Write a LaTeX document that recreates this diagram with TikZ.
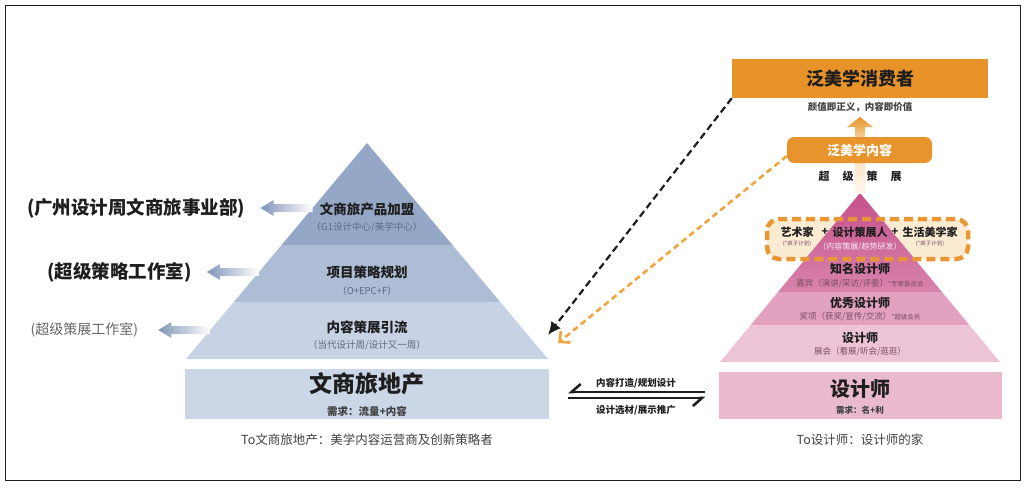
\documentclass[tikz,border=0pt]{standalone}
\usepackage{fontspec}
\setmainfont{Noto Sans CJK SC}
\usepackage{tikz}
\usetikzlibrary{arrows.meta,positioning,calc}
\definecolor{lyrA}{HTML}{94A7C6}
\definecolor{lyrB}{HTML}{AEBDD6}
\definecolor{lyrC}{HTML}{C7D2E4}
\definecolor{bandLc}{HTML}{CBD7E7}
\definecolor{pkTop}{HTML}{C5508C}
\definecolor{pkA}{HTML}{D883AB}
\definecolor{pkB}{HTML}{E2A1BF}
\definecolor{pkC}{HTML}{EDC4D6}
\definecolor{bandRc}{HTML}{E9B9CD}
\definecolor{orangeD}{HTML}{E8922A}
\definecolor{orangeL}{HTML}{EDA540}
\definecolor{cream}{HTML}{FCEBD3}
\definecolor{arrBlue}{HTML}{8195B7}
\definecolor{txtD}{HTML}{1E1E1E}
\definecolor{subL}{HTML}{5B6B82}
\definecolor{subR}{HTML}{7A4D62}
\newcommand{\fsz}[1]{\fontsize{#1pt}{#1pt}\selectfont}
\tikzset{
  lyrtxt/.style={inner sep=0pt, text=txtD, font=\bfseries\fsz{13.5}},
  subtxt/.style={inner sep=0pt, text=subL, font=\fsz{9.5}},
  pktxt/.style={inner sep=0pt, text=txtD, font=\bfseries\fsz{12}},
  pksub/.style={inner sep=0pt, text=subR, font=\fsz{8.5}},
  midtxt/.style={inner sep=0pt, text=txtD, font=\bfseries\fsz{9.5}},
  harp/.style={line width=2.6pt, draw=txtD, -{Straight Barb[harpoon,swap,length=9pt,width=16pt]}},
}
\begin{document}
\begin{tikzpicture}[x=1pt,y=-1pt]
\useasboundingbox (0,0) rectangle (1027,487);
\draw[line width=1.3pt, txtD] (5.5,5.5) rectangle (1020.5,480.5);
%linke Pyramide: Spitze bei y=143, Basis bei y=359, Steigung 181/216
\pgfmathsetmacro{\xL}{367}
\pgfmathsetmacro{\sL}{181/216}
\foreach \ya/\yb/\col in {143/245/lyrA,245/302/lyrB,302/359/lyrC}{
\fill[\col] ({\xL-\sL*(\ya-143)},\ya) -- ({\xL+\sL*(\ya-143)},\ya) -- ({\xL+\sL*(\yb-143)},\yb) -- ({\xL-\sL*(\yb-143)},\yb) -- cycle;
}
\node[lyrtxt] (prodL) at (\xL,209) {文商旅产品加盟};
\node[subtxt] (prodLs) at (\xL,227) {（G1设计中心/美学中心）};
\node[lyrtxt] (planL) at (\xL,272) {项目策略规划};
\node[subtxt] (planLs) at (\xL,291) {（O+EPC+F）};
\node[lyrtxt] (curL) at (\xL,327) {内容策展引流};
\node[subtxt] (curLs) at (\xL,345) {（当代设计周/设计又一周）};
%Pfeile nach links, von der Kante der Pyramide aus
\foreach \y/\n in {208/A,272/B,330/C}{
\pgfmathsetmacro{\xe}{\xL-\sL*(\y-143)}
\coordinate (tip\n) at ({\xe-52},\y);
\shade[left color=arrBlue, right color=white] (tip\n) -- ({\xe-39},{\y-8}) -- ({\xe-39},{\y-4}) -- (\xe,{\y-4}) -- (\xe,{\y+4}) -- ({\xe-39},{\y+4}) -- ({\xe-39},{\y+8}) -- cycle;
}
\node[left=15pt of tipA, inner sep=0pt, text=txtD, font=\bfseries\fsz{18.5}] (depA) {(广州设计周文商旅事业部)};
\node[left=15pt of tipB, inner sep=0pt, text=txtD, font=\bfseries\fsz{18.5}] (depB) {(超级策略工作室)};
\node[left=20pt of tipC, inner sep=0pt, text=black!60, font=\fsz{14}] (depC) {(超级策展工作室)};
\node[fill=bandLc, minimum width=364pt, minimum height=50pt, inner sep=0pt] (bandL) at (\xL,394) {};
\node[inner sep=0pt, text=txtD, font=\bfseries\fsz{23}] (titL) at (\xL,384) {文商旅地产};
\node[inner sep=0pt, text=txtD!85, font=\bfseries\fsz{10.5}] (needL) at (\xL,411) {需求：流量+内容};
\node[inner sep=0pt, text=txtD!85, font=\fsz{12.5}] (capL) at (\xL,440) {To文商旅地产：美学内容运营商及创新策略者};
%rechte Pyramide: Spitze bei y=193, Basis bei y=362, Steigung 140/169
\pgfmathsetmacro{\xR}{860}
\pgfmathsetmacro{\sR}{140/169}
\fill[cream] (767,219) [rounded corners=12pt] rectangle (968,259);
\shade[top color=pkTop, bottom color=pkA] (\xR,193) -- ({\xR+\sR*99},292) -- ({\xR-\sR*99},292) -- cycle;
\foreach \ya/\yb/\col in {292/325/pkB,325/362/pkC}{
\fill[\col] ({\xR-\sR*(\ya-193)},\ya) -- ({\xR+\sR*(\ya-193)},\ya) -- ({\xR+\sR*(\yb-193)},\yb) -- ({\xR-\sR*(\yb-193)},\yb) -- cycle;
}
\draw[orangeD!95, line width=4.5pt, dash pattern=on 9pt off 5pt, rounded corners=12pt] (767,219) rectangle (968,259);
\node[pktxt, font=\bfseries\fsz{11}] (art) at (797,232) {艺术家};
\node[inner sep=0pt, text=subR, font=\fsz{5.5}] (artS) at (797,244) {(*疯子计划)};
\node[pktxt, font=\bfseries\fsz{11}] (plA) at (825,232) {+};
\node[pktxt, font=\bfseries\fsz{11}] (cur) at (\xR,232) {设计策展人};
\node[inner sep=0pt, text=white!85!pkA, font=\fsz{8}] (curS) at (\xR,247) {（内容策展/趋势研发）};
\node[pktxt, font=\bfseries\fsz{11}] (plB) at (895,232) {+};
\node[pktxt, font=\bfseries\fsz{11}] (life) at (930,232) {生活美学家};
\node[inner sep=0pt, text=subR, font=\fsz{5.5}] (lifeS) at (930,244) {(*疯子计划)};
\node[pktxt] (famR) at (\xR,269) {知名设计师};
\node[pksub] (famRs) at (\xR,284) {嘉宾（演讲/采访/评委）{\fsz{6.5}*专家委员会}};
\node[pktxt] (excR) at (\xR,303) {优秀设计师};
\node[pksub] (excRs) at (\xR,317) {奖项（获奖/宣传/交流）{\fsz{6.5}*超级会员}};
\node[pktxt] (desR) at (\xR,338) {设计师};
\node[pksub] (desRs) at (\xR,352) {展会（看展/听会/逛逛）};
\node[fill=bandRc, minimum width=283pt, minimum height=47pt, inner sep=0pt] (bandR) at (\xR,395.5) {};
\node[inner sep=0pt, text=txtD, font=\bfseries\fsz{20}] (titR) at (\xR,389) {设计师};
\node[inner sep=0pt, text=txtD!85, font=\bfseries\fsz{8.5}] (needR) at (\xR,410) {需求：名+利};
\node[inner sep=0pt, text=txtD!85, font=\fsz{12.5}] (capR) at (\xR,440) {To设计师：设计师的家};
%oben rechts
\node[fill=orangeD, minimum width=256pt, minimum height=39pt, inner sep=0pt, text=txtD, font=\bfseries\fsz{18}] (cons) at (\xR,78.5) {泛美学消费者};
\node[inner sep=0pt, text=txtD!85, font=\bfseries\fsz{9.5}] (consS) at (\xR,107) {颜值即正义，内容即价值};
\shade[top color=orangeL!30, bottom color=orangeL!8] (855,163) rectangle (865,193);
\shade[top color=orangeD, bottom color=orangeL!50] (\xR,117) -- (873,127) -- (865,127) -- (865,138) -- (855,138) -- (855,127) -- (847,127) -- cycle;
\node[fill=orangeD!90!orangeL, rounded corners=7pt, minimum width=145pt, minimum height=26pt, inner sep=0pt, text=white, font=\bfseries\fsz{13}] (cont) at (859.5,150) {泛美学内容};
\node[inner sep=0pt, text=txtD, font=\bfseries\fsz{11}] (superC) at (\xR,176) {超\hspace{13pt}级\hspace{13pt}策\hspace{13pt}展};
%gestrichelte Pfeile
\coordinate (tipBk) at (548,335);
\coordinate (tipOr) at (558,343);
\draw[txtD, line width=2.2pt, dash pattern=on 7pt off 4pt, -{Latex[length=13pt,width=12pt]}] (cons.south west) -- (tipBk);
\draw[orangeL, line width=2.6pt, dash pattern=on 6pt off 4pt, -{Straight Barb[length=8pt,width=15pt]}] ([yshift=-6pt]cont.west) -- (tipOr);
%Pfeile zwischen den Sockeln
\draw[harp] ([xshift=-13pt,yshift=3.5pt]bandR.west) -- ([xshift=19pt,yshift=2pt]bandL.east);
\draw[harp] ([xshift=19pt,yshift=-4pt]bandL.east) -- ([xshift=-13pt,yshift=-2.5pt]bandR.west);
\node[midtxt] (mkA) at (636,383) {内容打造/规划设计};
\node[midtxt] (mkB) at (636,410) {设计选材/展示推广};
\end{tikzpicture}
\end{document}
